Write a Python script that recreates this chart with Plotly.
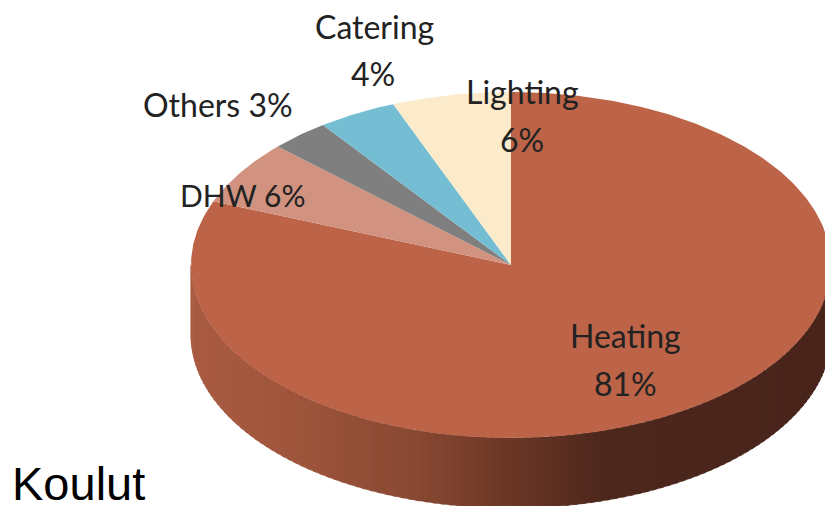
import numpy as np
import plotly.graph_objects as go

labels = ["Heating", "DHW", "Others", "Catering", "Lighting"]
values = [81, 6, 3, 4, 6]
colors = ["#BC6348", "#D19280", "#7F7F7F", "#75BDD3", "#FCEBCB"]

W, H = 825, 506
CX, CY, RX, RY, DEPTH = 511, 265, 320, 173, 70
WALL_X = [190, 300, 420, 520, 600, 830]
WALL_R = [170, 158, 136, 104, 78, 72]
WALL_G = [92, 85, 72, 54, 40, 36]
WALL_B = [66, 60, 50, 37, 29, 27]


def pt(theta, dy=0.0):
    return CX + RX * np.sin(theta), CY - RY * np.cos(theta) + dy


fig = go.Figure()

# side wall: narrow vertical bands along the front half of the rim
edges = np.linspace(np.pi / 2, 3 * np.pi / 2, 121)
for a, b in zip(edges[:-1], edges[1:]):
    th = np.linspace(a, min(b + 0.012, 3 * np.pi / 2), 5)
    xt, yt = pt(th)
    xb, yb = pt(th[::-1], DEPTH)
    xm = float(CX + RX * np.sin((a + b) / 2))
    col = "rgb(%d,%d,%d)" % (
        np.interp(xm, WALL_X, WALL_R),
        np.interp(xm, WALL_X, WALL_G),
        np.interp(xm, WALL_X, WALL_B),
    )
    fig.add_trace(go.Scatter(
        x=np.r_[xt, xb], y=np.r_[yt, yb], mode="lines", fill="toself",
        fillcolor=col, line=dict(width=0.6, color=col), hoverinfo="skip",
    ))

# top face: slices clockwise from 12 o'clock, sized from the values
frac = np.cumsum([0] + values) / sum(values) * 2 * np.pi
for i, name in enumerate(labels):
    th = np.linspace(frac[i], frac[i + 1], max(8, int(values[i] * 6)))
    x, y = pt(th)
    fig.add_trace(go.Scatter(
        x=np.r_[CX, x, CX], y=np.r_[CY, y, CY], mode="lines", fill="toself",
        fillcolor=colors[i], line=dict(width=0), name=name, hoverinfo="skip",
    ))

text_items = [
    (f"{labels[0]}", 625, 335, 32), (f"{values[0]}%", 625, 383, 32),
    (f"{labels[1]} {values[1]}%", 243, 195, 30),
    (f"{labels[2]} {values[2]}%", 218, 104, 32),
    (f"{labels[3]}", 374, 26, 32), (f"{values[3]}%", 373, 73, 32),
    (f"{labels[4]}", 522, 91, 32), (f"{values[4]}%", 522, 139, 32),
]
for t, x, y, s in text_items:
    fig.add_annotation(x=x, y=y, text=t, showarrow=False,
                       font=dict(family="Lato", size=s, color="#222222"),
                       xanchor="center", yanchor="middle")
fig.add_annotation(x=10, y=483, text="Koulut", showarrow=False, xanchor="left", yanchor="middle",
                   font=dict(family="Liberation Sans", size=47, color="#000000"))

fig.update_layout(
    width=W, height=H, margin=dict(l=0, r=0, t=0, b=0), showlegend=False,
    paper_bgcolor="white", plot_bgcolor="white",
    xaxis=dict(range=[0, W], visible=False, fixedrange=True),
    yaxis=dict(range=[H, 0], visible=False, fixedrange=True),
)
fig.write_html("out.html", config=dict(displayModeBar=False),
               post_script="document.body.style.margin='0';document.body.style.overflow='hidden';")
